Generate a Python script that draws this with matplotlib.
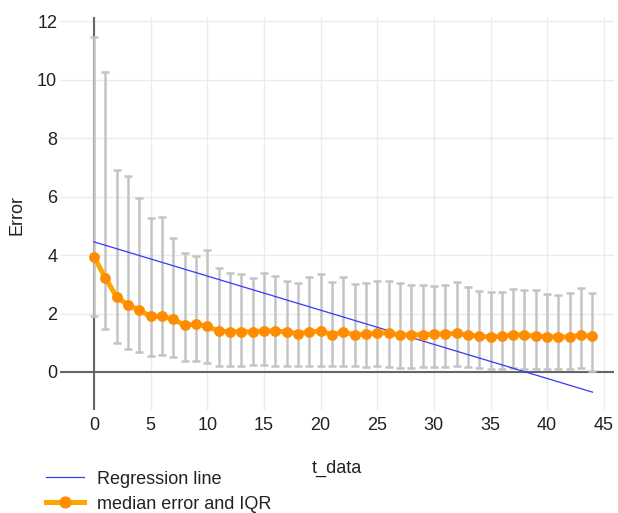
import matplotlib
matplotlib.use('Agg')
import matplotlib.pyplot as plt
from matplotlib.lines import Line2D
import numpy as np

plt.rcParams['font.family'] = ['Liberation Sans', 'DejaVu Sans']

t_data = list(range(45))
median_err = [3.94, 3.22, 2.57, 2.29, 2.11, 1.90, 1.91, 1.80, 1.60, 1.64,
              1.56, 1.40, 1.38, 1.38, 1.37, 1.41, 1.40, 1.37, 1.31, 1.37,
              1.40, 1.28, 1.36, 1.28, 1.29, 1.33, 1.34, 1.26, 1.27, 1.28,
              1.29, 1.30, 1.32, 1.27, 1.22, 1.20, 1.22, 1.28, 1.26, 1.23,
              1.21, 1.20, 1.20, 1.26, 1.22]
q_high = [11.44, 10.27, 6.91, 6.71, 5.96, 5.26, 5.29, 4.57, 4.06, 3.98,
          4.18, 3.54, 3.37, 3.34, 3.23, 3.40, 3.27, 3.12, 3.05, 3.26,
          3.35, 3.09, 3.26, 3.02, 3.03, 3.12, 3.12, 3.03, 2.97, 2.99,
          2.95, 2.97, 3.09, 2.92, 2.78, 2.75, 2.72, 2.84, 2.81, 2.79,
          2.65, 2.62, 2.70, 2.86, 2.69]
q_low = [1.91, 1.46, 1.00, 0.78, 0.68, 0.56, 0.59, 0.50, 0.39, 0.36,
         0.30, 0.22, 0.21, 0.21, 0.23, 0.24, 0.22, 0.21, 0.19, 0.21,
         0.21, 0.19, 0.21, 0.19, 0.16, 0.19, 0.16, 0.15, 0.15, 0.16,
         0.16, 0.17, 0.21, 0.16, 0.13, 0.10, 0.10, 0.14, 0.11, 0.11,
         0.11, 0.10, 0.11, 0.14, 0.05]

reg_intercept = 4.45
reg_slope = -0.1168

t = np.array(t_data)
med = np.array(median_err)
yerr = [med - np.array(q_low), np.array(q_high) - med]

fig = plt.figure(figsize=(6.18, 5.13), dpi=100)
ax = fig.add_axes([60/618, 1 - 410/513, (614-60)/618, (410-17)/513])

ax.plot(t, reg_intercept + reg_slope * t, color='#3838f5', lw=0.9, zorder=3)
ax.errorbar(t, med, yerr=yerr, fmt='none', ecolor='#c4c4c4', elinewidth=1.8,
            capsize=2.8, capthick=1.8, zorder=2)
ax.plot(t, med, color='#ffa500', lw=3.6, zorder=4)
ax.plot(t, med, 'o', color='#ff8c00', ms=7.8, mew=0, zorder=5)

ax.set_xlim(-3.0, 45.9)
ax.set_ylim(-1.3, 12.14)
ax.set_xticks(range(0, 46, 5))
ax.set_yticks(range(0, 13, 2))
ax.grid(True, color='#ebebeb', lw=1)
ax.set_axisbelow(True)
ax.axhline(0, color='#666666', lw=1.5, zorder=1.5)
ax.axvline(0, color='#666666', lw=1.5, zorder=1.5)
for s in ax.spines.values():
    s.set_visible(False)
ax.tick_params(length=0, labelsize=13, colors='#222222')
ax.tick_params(axis='x', pad=5)
ax.tick_params(axis='y', pad=2)

fig.text(337/618, 1 - 468/513, 't_data', ha='center', va='center', fontsize=13, color='#222222')
fig.text(17/618, 1 - 215/513, 'Error', ha='center', va='center', rotation=90, fontsize=13, color='#222222')

handles = [Line2D([], [], color='#3838f5', lw=0.9),
           Line2D([], [], color='#ffa500', lw=3.6, marker='o', mfc='#ff8c00', mec='#ff8c00', ms=7.8)]
fig.legend(handles, ['Regression line', 'median error and IQR'], loc='upper left',
           bbox_to_anchor=(33/618, 1 - 458/513), frameon=False, fontsize=13,
           handlelength=2.1, handletextpad=0.75, labelspacing=0.45, borderpad=0.2,
           labelcolor='#222222')

fig.savefig('out.png', dpi=100)
